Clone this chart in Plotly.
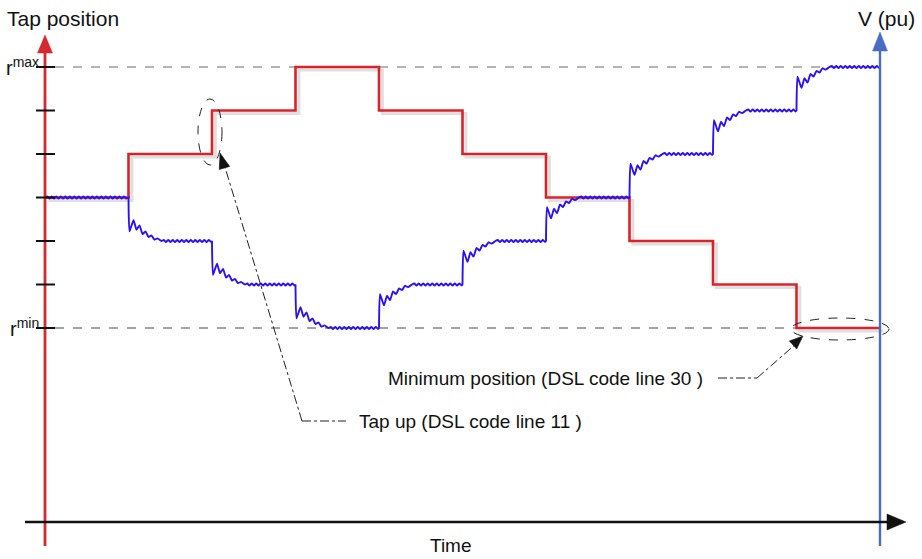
import plotly.graph_objects as go

# ---- data -------------------------------------------------------------
# switching instants (time units) and tap position held after each instant
step_times = [0, 1, 2, 3, 4, 5, 6, 7, 8, 9, 10]
tap_positions = [3, 4, 5, 6, 5, 4, 3, 2, 1, 0]
# settled voltage level during each interval (drawn on the same schematic scale)
voltage_levels = [3, 2, 1, 0, 1, 2, 3, 4, 5, 6]
# tap ladder marks: r_min .. r_max
tick_positions = [0, 1, 2, 3, 4, 5, 6]
R_MIN, R_MAX = 0, 6

# transient after a tap change: time after the step and fraction of the jump covered
transient_dt = [0, 0.012, 0.06, 0.096, 0.132, 0.168, 0.204, 0.24, 0.275, 0.311, 0.347, 0.395]
transient_frac = [0, 0.78, 0.52, 0.74, 0.64, 0.84, 0.78, 0.91, 0.87, 0.97, 0.94, 1.0]
# small residual ripple on the settled voltage
ripple_offsets = [0.022, -0.022]
ripple_spacing = 0.027

# ---- scale helpers (canvas pixels -> axis units) ---------------------
X0_PX, X_PER_UNIT = 45, 83.5
Y0_PX, Y_PER_UNIT = 328, 43.5
W, H = 922, 559


def px2x(px):
    return (px - X0_PX) / X_PER_UNIT


def px2y(py):
    return (Y0_PX - py) / Y_PER_UNIT


RED = "#d9232b"
AXIS_RED = "#d42a2e"
AXIS_BLUE = "#4a6cc2"
SIG_BLUE = "#2a12f5"
FONT = "Liberation Sans, Arial, sans-serif"

# ---- build traces -------------------------------------------------------
tap_x = list(step_times)
tap_y = tap_positions + [tap_positions[-1]]

v_x, v_y = [], []


def add_ripple(t_start, t_end, level):
    t = t_start
    i = 0
    while t < t_end - 0.01:
        v_x.append(t)
        v_y.append(level + ripple_offsets[i % len(ripple_offsets)])
        t += ripple_spacing
        i += 1
    v_x.append(t_end)
    v_y.append(level)


v_x.append(step_times[0])
v_y.append(voltage_levels[0])
add_ripple(step_times[0] + ripple_spacing, step_times[1], voltage_levels[0])
for k in range(1, len(voltage_levels)):
    a, b = voltage_levels[k - 1], voltage_levels[k]
    t0 = step_times[k]
    for dt, f in zip(transient_dt, transient_frac):
        v_x.append(t0 + dt)
        v_y.append(a + (b - a) * f)
    add_ripple(t0 + transient_dt[-1] + ripple_spacing, step_times[k + 1], b)

fig = go.Figure()

# soft shadow under the tap trace
fig.add_trace(go.Scatter(
    x=[t + 0.04 for t in tap_x], y=[p - 0.07 for p in tap_y],
    mode="lines", line=dict(shape="hv", color="rgba(185,185,185,0.45)", width=3),
    hoverinfo="skip", showlegend=False))
fig.add_trace(go.Scatter(
    x=tap_x, y=tap_y, mode="lines", line=dict(shape="hv", color=RED, width=2.6),
    name="Tap position", showlegend=False))
fig.add_trace(go.Scatter(
    x=v_x, y=v_y, mode="lines",
    line=dict(color=SIG_BLUE, width=1.9, shape="spline", smoothing=0.5),
    name="V (pu)", showlegend=False))

shapes = []

# r_max / r_min guide lines
for lvl, col in ((R_MAX, "#6a6a6a"), (R_MIN, "#4a4a4a")):
    shapes.append(dict(type="line", x0=px2x(55), x1=step_times[-1], y0=lvl, y1=lvl,
                       line=dict(color=col, width=1.1, dash="dash"), layer="below"))

# vertical axes
shapes.append(dict(type="line", x0=step_times[0], x1=step_times[0], y0=px2y(546), y1=px2y(50),
                   line=dict(color=AXIS_RED, width=2.8)))
shapes.append(dict(type="line", x0=step_times[-1], x1=step_times[-1], y0=px2y(546), y1=px2y(48),
                   line=dict(color=AXIS_BLUE, width=2.4)))
# time axis
shapes.append(dict(type="line", x0=px2x(25), x1=px2x(892), y0=px2y(522), y1=px2y(522),
                   line=dict(color="#111111", width=2.6)))


def tri(tip, base_c, half, color):
    """Filled arrowhead from canvas-pixel tip and base centre."""
    tx, ty = tip
    bx, by = base_c
    dx, dy = tx - bx, ty - by
    n = (dx * dx + dy * dy) ** 0.5
    nx, ny = -dy / n, dx / n
    p1 = (bx + nx * half, by + ny * half)
    p2 = (bx - nx * half, by - ny * half)
    path = "M {} {} L {} {} L {} {} Z".format(
        px2x(tx), px2y(ty), px2x(p1[0]), px2y(p1[1]), px2x(p2[0]), px2y(p2[1]))
    return dict(type="path", path=path, fillcolor=color, line=dict(color=color, width=0.5))


shapes.append(tri((45, 35), (45, 53), 7.5, AXIS_RED))
shapes.append(tri((880, 32), (880, 51), 7.5, AXIS_BLUE))
shapes.append(tri((906, 522), (887, 522), 8, "#111111"))

# tap ladder ticks
for p in tick_positions:
    shapes.append(dict(type="line", x0=px2x(36), x1=px2x(55), y0=p, y1=p,
                       line=dict(color="#111111", width=2)))

# callout: tap up
shapes.append(dict(type="circle", x0=px2x(198), x1=px2x(222), y0=px2y(165), y1=px2y(99),
                   line=dict(color="#222222", width=1, dash="dash")))
shapes.append(dict(type="line", x0=px2x(302), x1=px2x(224), y0=px2y(421), y1=px2y(164),
                   line=dict(color="#222222", width=1, dash="dashdot")))
shapes.append(dict(type="line", x0=px2x(302), x1=px2x(346), y0=px2y(421), y1=px2y(421),
                   line=dict(color="#222222", width=1, dash="dashdot")))
shapes.append(tri((220, 153), (224.5, 168), 5.5, "#111111"))

# callout: minimum position
shapes.append(dict(type="circle", x0=px2x(791), x1=px2x(889), y0=px2y(340), y1=px2y(318),
                   line=dict(color="#222222", width=1, dash="dash")))
shapes.append(dict(type="line", x0=px2x(757), x1=px2x(797), y0=px2y(378), y1=px2y(343),
                   line=dict(color="#222222", width=1, dash="dashdot")))
shapes.append(dict(type="line", x0=px2x(718), x1=px2x(757), y0=px2y(378), y1=px2y(378),
                   line=dict(color="#222222", width=1, dash="dashdot")))
shapes.append(tri((803, 336), (793, 345), 5.5, "#111111"))

annotations = [
    dict(x=px2x(5), y=px2y(18), text="Tap position", xanchor="left", yanchor="middle",
         font=dict(size=21, color="#111111")),
    dict(x=px2x(917), y=px2y(18), text="V (pu)", xanchor="right", yanchor="middle",
         font=dict(size=21, color="#111111")),
    dict(x=px2x(41), y=px2y(66), text="r<sup>max</sup>", xanchor="right", yanchor="middle",
         font=dict(size=20, color="#111111")),
    dict(x=px2x(41), y=px2y(327), text="r<sup>min</sup>", xanchor="right", yanchor="middle",
         font=dict(size=20, color="#111111")),
    dict(x=px2x(451), y=px2y(545), text="Time", xanchor="center", yanchor="middle",
         font=dict(size=19, color="#111111")),
    dict(x=px2x(357), y=px2y(421), text="Tap up (DSL code line 11 )", xanchor="left",
         yanchor="middle", font=dict(size=19, color="#111111")),
    dict(x=px2x(386), y=px2y(378), text="Minimum position (DSL code line 30 )", xanchor="left",
         yanchor="middle", font=dict(size=19, color="#111111")),
]
for a in annotations:
    a.update(xref="x", yref="y", showarrow=False)

fig.update_layout(
    width=W, height=H,
    margin=dict(l=0, r=0, t=0, b=0),
    paper_bgcolor="white", plot_bgcolor="white",
    font=dict(family=FONT),
    xaxis=dict(range=[px2x(0), px2x(W)], visible=False, fixedrange=True),
    yaxis=dict(range=[px2y(H), px2y(0)], visible=False, fixedrange=True),
    shapes=shapes, annotations=annotations, showlegend=False,
)

fig.write_html("out.html")
